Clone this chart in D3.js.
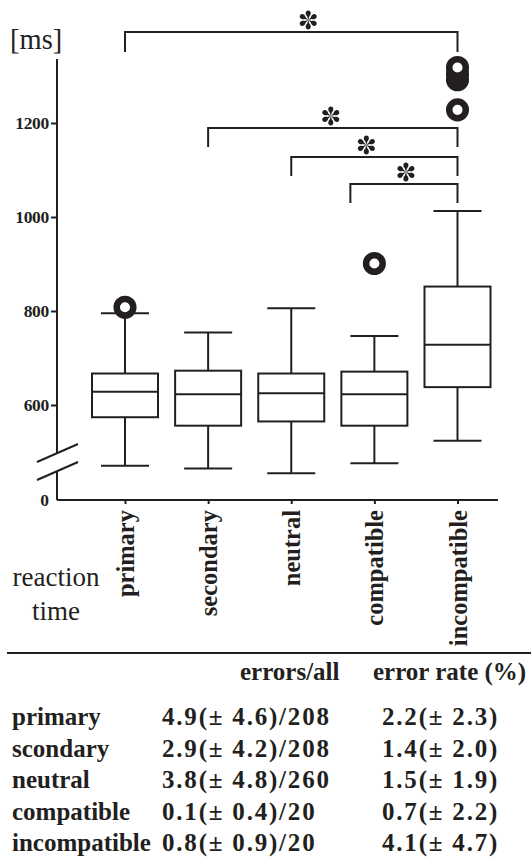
<html>
<head>
<meta charset="utf-8">
<title>reaction time</title>
<style>
  body { margin: 0; background: #fff; }
  svg text { fill: #231f20; font-family: "Liberation Serif", "Tinos", "Times New Roman", "DejaVu Serif", serif; }
</style>
</head>
<body>
<script src="https://cdn.jsdelivr.net/npm/d3@7"></script>
<script>
    var width = 531;
    var height = 862;

    // box plot values [ms]
    var categories = ["primary", "secondary", "neutral", "compatible", "incompatible"];
    var whiskerLow  = [471, 465, 455, 476, 524];
    var q1          = [574, 556, 565, 556, 638];
    var medians     = [628, 623, 625, 623, 728];
    var q3          = [667, 673, 667, 671, 852];
    var whiskerHigh = [795, 754, 806, 747, 1013];
    var outlierCats   = ["primary", "compatible", "incompatible", "incompatible", "incompatible", "incompatible"];
    var outlierValues = [808, 901, 1228, 1292, 1305, 1318];
    var yTicks = [600, 800, 1000, 1200];
    var sigPairs = [["primary", "incompatible"], ["secondary", "incompatible"],
                    ["neutral", "incompatible"], ["compatible", "incompatible"]];

    // error table
    var tableRows  = ["primary", "scondary", "neutral", "compatible", "incompatible"];
    var errorsAll  = ["4.9(\u00b1 4.6)/208", "2.9(\u00b1 4.2)/208", "3.8(\u00b1 4.8)/260", "0.1(\u00b1 0.4)/20", "0.8(\u00b1 0.9)/20"];
    var errorRate  = ["2.2(\u00b1 2.3)", "1.4(\u00b1 2.0)", "1.5(\u00b1 1.9)", "0.7(\u00b1 2.2)", "4.1(\u00b1 4.7)"];

    var ink = "#231f20";

    var svg = d3.select("body").append("svg")
        .attr("width", width)
        .attr("height", height);

    var x = d3.scalePoint().domain(categories).range([125, 457.5]);
    var y = d3.scaleLinear().domain([600, 1200]).range([405, 123]);
    var axisX = 57, baseY = 500;

    // y axis (upper part, then the break)
    var yAxis = svg.append("g")
        .attr("transform", "translate(" + axisX + ",0)")
        .call(d3.axisLeft(y).tickValues(yTicks).tickFormat(d3.format("d")).tickSize(6).tickPadding(2));
    yAxis.attr("font-family", null);
    yAxis.select(".domain").remove();
    yAxis.selectAll("line").attr("stroke", ink).attr("stroke-width", 2);
    yAxis.selectAll("text")
        .attr("font-weight", "bold")
        .attr("font-size", 17.5).attr("letter-spacing", -0.3);

    svg.append("line")
        .attr("x1", axisX).attr("x2", axisX)
        .attr("y1", y(1336)).attr("y2", 453)
        .attr("stroke", ink).attr("stroke-width", 2);
    svg.append("line")
        .attr("x1", axisX).attr("x2", axisX)
        .attr("y1", 471).attr("y2", baseY)
        .attr("stroke", ink).attr("stroke-width", 2);
    [0, 18].forEach(function(off) {
        svg.append("line")
            .attr("x1", 37).attr("y1", 462 + off)
            .attr("x2", 78).attr("y2", 444 + off)
            .attr("stroke", ink).attr("stroke-width", 2);
    });
    svg.append("text")
        .attr("x", 49).attr("y", baseY).attr("dy", "0.32em")
        .attr("text-anchor", "end")
        .attr("font-weight", "bold").attr("font-size", 17.5)
        .text("0");

    // x axis
    svg.append("line")
        .attr("x1", axisX).attr("x2", 498)
        .attr("y1", baseY).attr("y2", baseY)
        .attr("stroke", ink).attr("stroke-width", 2);
    var xAxis = svg.append("g")
        .attr("transform", "translate(0," + baseY + ")")
        .call(d3.axisBottom(x).tickSize(4).tickPadding(0));
    xAxis.attr("font-family", null);
    xAxis.select(".domain").remove();
    xAxis.selectAll("line").attr("stroke", ink).attr("stroke-width", 2);
    xAxis.selectAll("text")
        .attr("transform", "rotate(-90)")
        .attr("x", -10).attr("y", 0).attr("dy", "0.35em")
        .attr("text-anchor", "end")
        .attr("font-weight", "bold")
        .attr("font-size", 24.5);

    // boxes
    var boxW = 66, capW = 48;
    var boxes = svg.selectAll("g.box")
        .data(categories)
        .enter().append("g")
        .attr("class", "box")
        .attr("stroke", ink).attr("stroke-width", 2).attr("fill", "none");
    boxes.append("line")
        .attr("x1", function(d) { return x(d); }).attr("x2", function(d) { return x(d); })
        .attr("y1", function(d, i) { return y(whiskerHigh[i]); })
        .attr("y2", function(d, i) { return y(q3[i]); });
    boxes.append("line")
        .attr("x1", function(d) { return x(d); }).attr("x2", function(d) { return x(d); })
        .attr("y1", function(d, i) { return y(q1[i]); })
        .attr("y2", function(d, i) { return y(whiskerLow[i]); });
    boxes.append("line")
        .attr("x1", function(d) { return x(d) - capW / 2; }).attr("x2", function(d) { return x(d) + capW / 2; })
        .attr("y1", function(d, i) { return y(whiskerHigh[i]); })
        .attr("y2", function(d, i) { return y(whiskerHigh[i]); });
    boxes.append("line")
        .attr("x1", function(d) { return x(d) - capW / 2; }).attr("x2", function(d) { return x(d) + capW / 2; })
        .attr("y1", function(d, i) { return y(whiskerLow[i]); })
        .attr("y2", function(d, i) { return y(whiskerLow[i]); });
    boxes.append("rect")
        .attr("x", function(d) { return x(d) - boxW / 2; })
        .attr("width", boxW)
        .attr("y", function(d, i) { return y(q3[i]); })
        .attr("height", function(d, i) { return y(q1[i]) - y(q3[i]); })
        .attr("fill", "#fff");
    boxes.append("line")
        .attr("x1", function(d) { return x(d) - boxW / 2; }).attr("x2", function(d) { return x(d) + boxW / 2; })
        .attr("y1", function(d, i) { return y(medians[i]); })
        .attr("y2", function(d, i) { return y(medians[i]); });

    // outliers (thick rings)
    svg.selectAll("circle.out")
        .data(outlierValues)
        .enter().append("circle")
        .attr("class", "out")
        .attr("cx", function(d, i) { return x(outlierCats[i]); })
        .attr("cy", function(d) { return y(d); })
        .attr("r", 8.3)
        .attr("fill", "#fff")
        .attr("stroke", ink)
        .attr("stroke-width", 6.5);

    // significance brackets
    var bracketTop = [32, 128, 157, 184];
    var drop = 19;
    function asterisk(g, cx, cy) {
        var petal = "M0,0 L-1,-3.5 C-3.3,-5.5 -3.1,-9.4 0,-9.4 C3.1,-9.4 3.3,-5.5 1,-3.5 Z";
        d3.range(6).forEach(function(k) {
            g.append("path")
                .attr("d", petal)
                .attr("fill", ink)
                .attr("transform", "translate(" + cx + "," + cy + ") rotate(" + (k * 60) + ")");
        });
    }
    var starShift = [17, -2, -8, 2];
    sigPairs.forEach(function(p, i) {
        var x1 = x(p[0]) - (p[0] === "compatible" ? 24 : 0);
        var x2 = x(p[1]);
        var top = bracketTop[i];
        var d = drop + (i === 0 ? 1 : 0);
        svg.append("path")
            .attr("d", d3.line()([[x1, top + d], [x1, top], [x2, top], [x2, top + d]]))
            .attr("fill", "none")
            .attr("stroke", ink)
            .attr("stroke-width", 2);
        asterisk(svg, (x1 + x2) / 2 + starShift[i], top - 12);
    });

    // labels
    svg.append("text")
        .attr("x", 10).attr("y", 49)
        .attr("font-size", 28.5)
        .text("[ms]");
    svg.append("text")
        .attr("x", 56).attr("y", 586)
        .attr("text-anchor", "middle")
        .attr("font-size", 27)
        .text("reaction");
    svg.append("text")
        .attr("x", 56).attr("y", 620)
        .attr("text-anchor", "middle")
        .attr("font-size", 27)
        .text("time");

    // table
    svg.append("line")
        .attr("x1", 7).attr("x2", width)
        .attr("y1", 653).attr("y2", 653)
        .attr("stroke", ink).attr("stroke-width", 2);
    var tbl = svg.append("g")
        .attr("font-weight", "bold").attr("font-size", 25);
    tbl.append("text").attr("x", 240).attr("y", 680).text("errors/all");
    tbl.append("text").attr("x", 373).attr("y", 680).text("error rate (%)");
    var rowY = d3.scalePoint().domain(tableRows).range([725, 851]);
    var rows = tbl.selectAll("g.row")
        .data(tableRows)
        .enter().append("g")
        .attr("class", "row")
        .attr("transform", function(d) { return "translate(0," + rowY(d) + ")"; });
    rows.append("text").attr("x", 12).text(function(d) { return d; });
    rows.append("text").attr("x", 162).attr("letter-spacing", 1.8)
        .text(function(d, i) { return errorsAll[i]; });
    rows.append("text").attr("x", 382).attr("letter-spacing", 1.8)
        .text(function(d, i) { return errorRate[i]; });
</script>
</body>
</html>
